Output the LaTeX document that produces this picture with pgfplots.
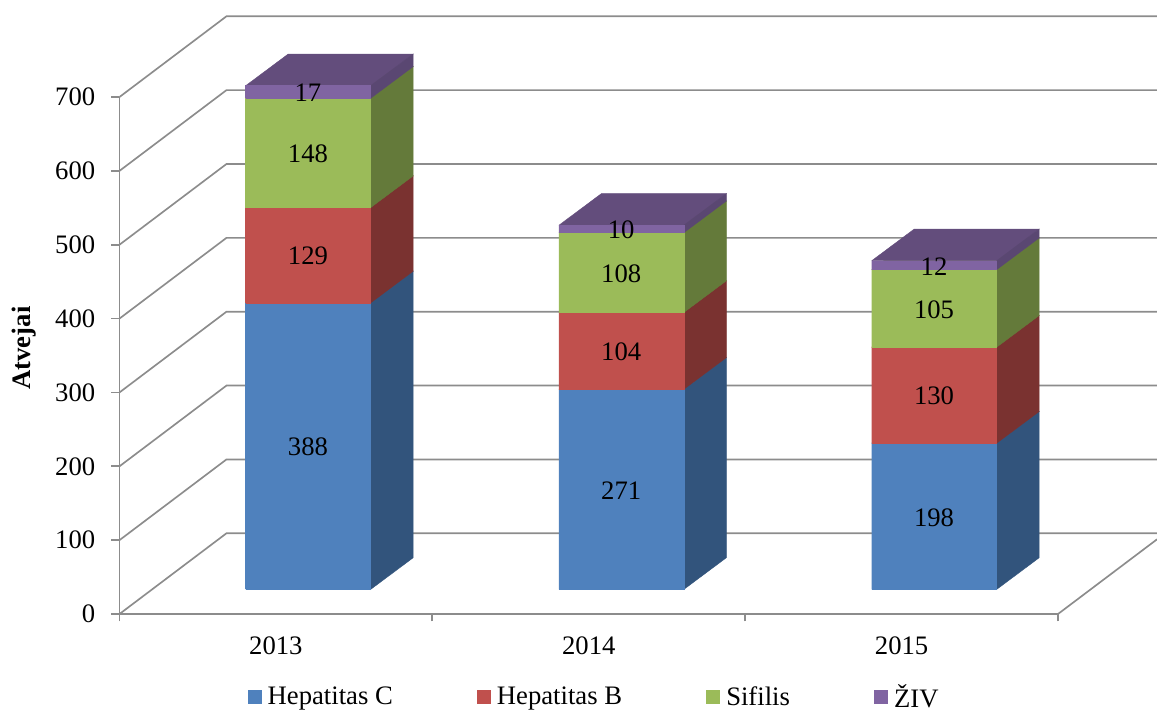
\documentclass[border=0pt]{standalone}
\usepackage{fontspec}
\setmainfont{Liberation Serif}
\usepackage{pgfplots}
\pgfplotsset{compat=1.18}
\definecolor{cA}{HTML}{4F81BD}\definecolor{cAs}{HTML}{32547C}\definecolor{cAt}{HTML}{3E6696}
\definecolor{cB}{HTML}{C0504D}\definecolor{cBs}{HTML}{7A3230}\definecolor{cBt}{HTML}{97403D}
\definecolor{cC}{HTML}{9BBB59}\definecolor{cCs}{HTML}{647A3A}\definecolor{cCt}{HTML}{7A9446}
\definecolor{cD}{HTML}{8064A2}\definecolor{cDs}{HTML}{5A4772}\definecolor{cDt}{HTML}{634D7C}
\definecolor{gridc}{HTML}{8C8C8C}
\newcommand{\chartfont}{\fontsize{20}{22}\selectfont}
\def\pxu{0.75pt}
% one stacked segment: left x, start, value, front, side, top colours
\newcommand{\seg}[6]{%
  \pgfmathsetmacro{\xa}{#1}\pgfmathsetmacro{\xb}{#1+0.3995}\pgfmathsetmacro{\xc}{#1+0.3995+0.1359}
  \pgfmathsetmacro{\xd}{#1+0.1359}\pgfmathsetmacro{\xm}{#1+0.19915}
  \pgfmathsetmacro{\ya}{#2}\pgfmathsetmacro{\yb}{#2+#3}\pgfmathsetmacro{\yc}{#2+42.9}\pgfmathsetmacro{\yd}{#2+#3+42.9}
  \pgfmathsetmacro{\ym}{#2+#3/2}
  \addplot[forget plot,fill=#6,draw=#6,line width=0.3pt] coordinates {(\xa,\yb) (\xb,\yb) (\xc,\yd) (\xd,\yd) (\xa,\yb)};
  \addplot[forget plot,fill=#5,draw=#5,line width=0.3pt] coordinates {(\xb,\ya) (\xc,\yc) (\xc,\yd) (\xb,\yb) (\xb,\ya)};
  \addplot[forget plot,fill=#4,draw=#4,line width=0.3pt] coordinates {(\xa,\ya) (\xb,\ya) (\xb,\yb) (\xa,\yb) (\xa,\ya)};
  \addplot[forget plot,only marks,mark=none,nodes near coords,point meta=explicit symbolic,
    every node near coord/.append style={anchor=center,inner sep=0pt,font=\chartfont,text=black,yshift=-0.75pt}]
    coordinates {(\xm,\ym) [#3]};
}
\newcommand{\stackbar}[5]{%
  \def\base{33.3}%
  \seg{#1}{\base}{#2}{cA}{cAs}{cAt}\pgfmathsetmacro{\base}{\base+#2}%
  \seg{#1}{\base}{#3}{cB}{cBs}{cBt}\pgfmathsetmacro{\base}{\base+#3}%
  \seg{#1}{\base}{#4}{cC}{cCs}{cCt}\pgfmathsetmacro{\base}{\base+#4}%
  \seg{#1}{\base}{#5}{cD}{cDs}{cDt}%
}
\newcommand{\gridlevel}[1]{%
  \pgfmathsetmacro{\yy}{#1+109.3}
  \addplot[forget plot,gridc,line width=1.25pt] coordinates {(0,#1) (0.342,\yy) (3.3165,\yy)};
}
\begin{document}
\begin{tikzpicture}
\path[use as bounding box] (-119.5*\pxu,-97*\pxu) rectangle (1037.5*\pxu,614*\pxu);
\begin{axis}[
  at={(0,0)},anchor=origin,
  scale only axis,width=938.5*\pxu,height=517*\pxu,
  xmin=0,xmax=3,ymin=0,ymax=700,clip=false,
  axis y line*=left,axis x line*=bottom,
  axis line style={gridc,line width=1.25pt},
  xtick={0.5,1.5,2.5},xticklabels={2013,2014,2015},
  minor xtick={0,1,2,3},
  major x tick style={draw=none},
  minor x tick style={gridc,line width=1.25pt},
  minor tick length=5.6pt,
  ytick={0,100,...,700},
  y tick style={gridc,line width=1.25pt},
  tick align=outside,major tick length=6pt,
  tick label style={font=\chartfont},
  x tick label style={inner sep=0pt,yshift=-11pt},
  y tick label style={inner sep=0pt,xshift=-12pt},
  /pgf/number format/assume math mode=true,
  ylabel={Atvejai},
  every axis y label/.style={at={(axis description cs:-0.1020,0.5145)},rotate=90,anchor=center,font=\chartfont\bfseries},
  legend columns=4,
  legend style={draw=none,fill=none,at={(axis description cs:0.506,-0.1605)},anchor=center,
    font=\chartfont,inner sep=0pt,
    /tikz/every even column/.append style={column sep=61pt},
    /tikz/every odd column/.append style={column sep=2.6pt}},
  legend image code/.code={\path[#1] (0pt,-5.25pt) rectangle (10.5pt,5.25pt);},
]
\pgfplotsinvokeforeach{0,100,200,300,400,500,600,700}{\gridlevel{#1}}
\addplot[forget plot,gridc,line width=1.25pt] coordinates {(3,0) (3.3165,101.1)};
\stackbar{0.4034}{388}{129}{148}{17}
\stackbar{1.4045}{271}{104}{108}{10}
\stackbar{2.4045}{198}{130}{105}{12}
\addlegendimage{fill=cA,draw=none}\addlegendentry{Hepatitas C}
\addlegendimage{fill=cB,draw=none}\addlegendentry{Hepatitas B}
\addlegendimage{fill=cC,draw=none}\addlegendentry{Sifilis}
\addlegendimage{fill=cD,draw=none}\addlegendentry{ŽIV}
\end{axis}
\end{tikzpicture}
\end{document}
